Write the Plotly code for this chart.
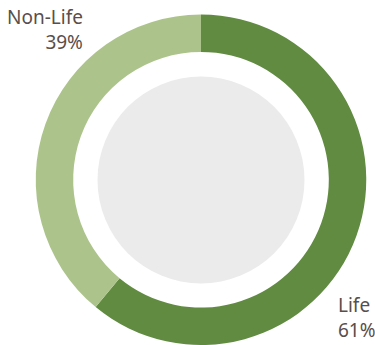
import plotly.graph_objects as go

labels = ["Life", "Non-Life"]
values = [61, 39]
colors = ["#608b41", "#acc48b"]

W, H = 375, 345
cx, cy, R = 201, 180, 165.5
hole_r = 128
grey_r = 103.5

fig = go.Figure()
fig.add_trace(go.Pie(
    labels=labels, values=values, sort=False, direction="clockwise", rotation=0,
    hole=hole_r / R, textinfo="none", hoverinfo="label+percent",
    marker=dict(colors=colors, line=dict(width=0)),
    domain=dict(x=[(cx - R) / W, (cx + R) / W], y=[max(0, (H - cy - R) / H), (H - cy + R) / H]),
    showlegend=False,
))

fig.add_shape(type="circle", xref="paper", yref="paper",
              x0=(cx - grey_r) / W, x1=(cx + grey_r) / W,
              y0=(H - cy - grey_r) / H, y1=(H - cy + grey_r) / H,
              fillcolor="#ebebeb", line=dict(width=0), layer="below")

font = dict(family="Noto Sans", size=19, color="#594e4a")
pos = {
    "Non-Life": dict(x=85, side="right", y=29),
    "Life": dict(x=336, side="left", y=317),
}
for lab, val in zip(labels, values):
    p = pos[lab]
    fig.add_annotation(text=f"{lab}<br>{val}%", x=p["x"] / W, y=1 - p["y"] / H,
                       xref="paper", yref="paper", xanchor=p["side"], align=p["side"],
                       yanchor="middle", showarrow=False, font=font)

fig.update_layout(width=W, height=H, margin=dict(l=0, r=0, t=0, b=0),
                  paper_bgcolor="white", plot_bgcolor="white")
fig.write_html("out.html", config={"displayModeBar": False},
               post_script="document.body.style.margin='0';document.body.style.overflow='hidden';")
